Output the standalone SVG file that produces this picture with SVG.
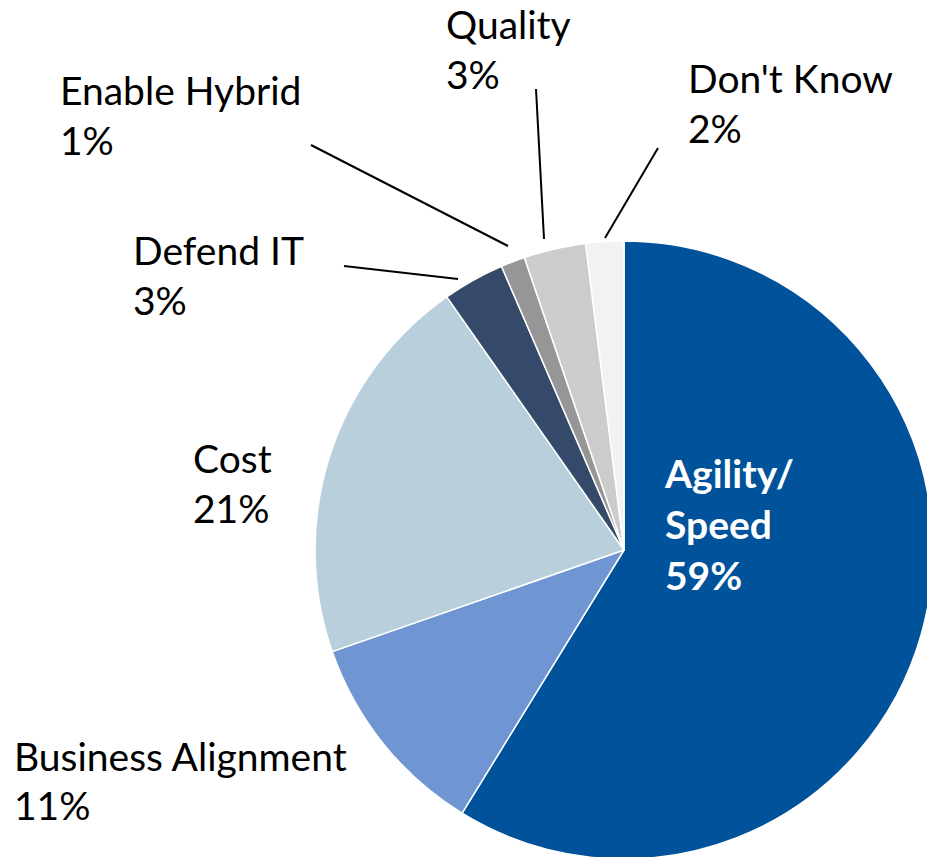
<svg xmlns="http://www.w3.org/2000/svg" width="927" height="857" viewBox="0 0 927 857">
<style>
.s{stroke:#fff;stroke-width:1.5;stroke-linejoin:round}
.t{font-family:Lato,"Liberation Sans",sans-serif;font-size:39px;fill:#000}
.w{font-family:Lato,"Liberation Sans",sans-serif;font-size:39px;font-weight:bold;fill:#fff}
.l{stroke:#000;stroke-width:2;fill:none}
</style>
<rect width="927" height="857" fill="#fff"/>
<g id="agility">
<path class="s" fill="#00529B" d="M624,550 L624,241 A309,309 0 1 1 462.1,813.2 Z"/>
<text class="w" x="665" y="488">Agility/</text>
<text class="w" x="665" y="539">Speed</text>
<text class="w" x="665" y="590">59%</text>
</g>
<g id="business">
<path class="s" fill="#6F96D2" d="M624,550 L462.1,813.2 A309,309 0 0 1 332.2,651.6 Z"/>
<text class="t" x="14" y="771">Business Alignment</text>
<text class="t" x="14" y="820">11%</text>
</g>
<g id="cost">
<path class="s" fill="#B9CFDC" d="M624,550 L332.2,651.6 A309,309 0 0 1 446.8,296.9 Z"/>
<text class="t" x="193" y="473">Cost</text>
<text class="t" x="193" y="523">21%</text>
</g>
<g id="defend">
<path class="s" fill="#354A6A" d="M624,550 L446.8,296.9 A309,309 0 0 1 501.5,266.3 Z"/>
<text class="t" x="133" y="265">Defend IT</text>
<text class="t" x="133" y="315">3%</text>
</g>
<g id="hybrid">
<path class="s" fill="#969696" d="M624,550 L501.5,266.3 A309,309 0 0 1 524.4,257.5 Z"/>
<text class="t" x="60" y="105">Enable Hybrid</text>
<text class="t" x="60" y="155">1%</text>
</g>
<g id="quality">
<path class="s" fill="#CCCCCC" d="M624,550 L524.4,257.5 A309,309 0 0 1 585.6,243.4 Z"/>
<text class="t" x="446" y="39">Quality</text>
<text class="t" x="446" y="89">3%</text>
</g>
<g id="dontknow">
<path class="s" fill="#F2F2F2" d="M624,550 L585.6,243.4 A309,309 0 0 1 624,241 Z"/>
<text class="t" x="688" y="93">Don't Know</text>
<text class="t" x="688" y="143">2%</text>
</g>
<g id="connectors">
<line class="l" x1="344" y1="266" x2="458" y2="279"/>
<line class="l" x1="311" y1="145" x2="508" y2="246"/>
<line class="l" x1="536" y1="89" x2="544" y2="239"/>
<line class="l" x1="658" y1="148" x2="605" y2="238"/>
</g>
</svg>
